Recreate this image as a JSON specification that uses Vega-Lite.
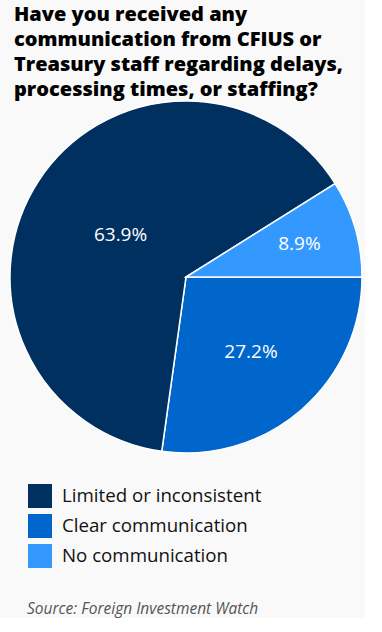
{
  "$schema": "https://vega.github.io/schema/vega-lite/v6.json",
  "background": "#f9f9f9",
  "padding": {"left": 7, "top": 5, "right": 0, "bottom": 0},
  "title": {
    "text": ["Have you received any", "communication from CFIUS or", "Treasury staff regarding delays,", "processing times, or staffing?"],
    "anchor": "start", "frame": "group", "fontSize": 20, "lineHeight": 25,
    "font": "Open Sans", "fontWeight": 800, "color": "#000000", "offset": 0, "dx": 3, "dy": 2
  },
  "data": {"values": [
    {"category": "Clear communication", "share": 0.272, "ord": 1},
    {"category": "Limited or inconsistent", "share": 0.639, "ord": 2},
    {"category": "No communication", "share": 0.089, "ord": 3}
  ]},
  "vconcat": [{
    "width": 350, "height": 352,
    "title": {"text": "Source: Foreign Investment Watch", "orient": "bottom", "anchor": "start", "frame": "group",
      "fontStyle": "italic", "fontWeight": "normal", "fontSize": 15.5, "color": "#555555", "font": "Open Sans", "offset": 146, "dx": 16},
    "encoding": {
      "theta": {"field": "share", "type": "quantitative", "stack": true, "scale": {"range": [1.5707963, 7.8539816]}},
      "order": {"field": "ord", "type": "quantitative"}
    },
    "layer": [
      {
        "mark": {"type": "arc", "outerRadius": 176, "stroke": "white", "strokeWidth": 1.5},
        "encoding": {
          "color": {"field": "category", "type": "nominal",
            "scale": {"domain": ["Limited or inconsistent", "Clear communication", "No communication"], "range": ["#00305f", "#0066cc", "#3399ff"]},
            "legend": {"orient": "none", "legendX": 17, "legendY": 383, "title": null, "symbolType": "square", "symbolSize": 576,
              "symbolStrokeWidth": 0, "symbolOpacity": 1, "rowPadding": 6, "labelFontSize": 18.7, "labelFont": "Open Sans", "labelColor": "#111111", "labelOffset": 10, "labelLimit": 400}
          }
        }
      },
      {
        "mark": {"type": "text", "radius": 78, "fontSize": 19, "font": "Open Sans", "color": "white"},
        "encoding": {"text": {"condition": {"test": "datum.category === 'Limited or inconsistent'", "field": "share", "format": ".1%"}, "value": ""}}
      },
      {
        "mark": {"type": "text", "radius": 99, "fontSize": 19, "font": "Open Sans", "color": "white"},
        "encoding": {"text": {"condition": {"test": "datum.category === 'Clear communication'", "field": "share", "format": ".1%"}, "value": ""}}
      },
      {
        "mark": {"type": "text", "radius": 118, "fontSize": 19, "font": "Open Sans", "color": "white"},
        "encoding": {"text": {"condition": {"test": "datum.category === 'No communication'", "field": "share", "format": ".1%"}, "value": ""}}
      }
    ]
  }],
  "config": {"view": {"stroke": null}, "concat": {"spacing": 0}}
}
